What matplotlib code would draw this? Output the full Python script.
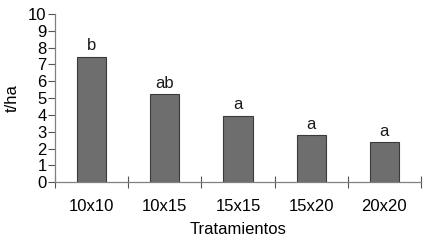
import matplotlib.pyplot as plt
import numpy as np
from matplotlib.ticker import FixedLocator

plt.rcParams['font.family'] = ['Liberation Sans', 'DejaVu Sans']

# Data
tratamientos = ['10x10', '10x15', '15x15', '15x20', '20x20']
rendimiento = [7.47, 5.22, 3.95, 2.8, 2.4]   # t/ha
letras = ['b', 'ab', 'a', 'a', 'a']

FS = 12

fig = plt.figure(figsize=(4.37, 2.44), dpi=100)
ax = fig.add_axes([0.1259, 0.2529, 0.8375, 0.6897])

x = np.arange(len(tratamientos)) + 0.5
ax.bar(x, rendimiento, width=0.4, color='#6e6e6e',
       edgecolor='#3a3a3a', linewidth=0.8, zorder=2)

for xi, val, lab in zip(x, rendimiento, letras):
    ax.text(xi, val + 0.2, lab, ha='center', va='bottom', fontsize=FS, color='#1a1a1a')

ax.set_xlim(0, len(tratamientos))
ax.set_ylim(0, 10)
ax.set_yticks(range(0, 11))

# category boundaries as major ticks, labels at centres as minor
ax.xaxis.set_major_locator(FixedLocator(np.arange(len(tratamientos) + 1)))
ax.xaxis.set_minor_locator(FixedLocator(x))
ax.set_xticklabels([])
ax.set_xticklabels(tratamientos, minor=True)
ax.tick_params(axis='x', which='major', direction='inout', length=8, width=0.8, color='#555555')
ax.tick_params(axis='x', which='minor', direction='in', length=4, width=0.8, color='#333333',
               labelsize=FS, pad=12)
ax.tick_params(axis='y', direction='out', length=5, width=0.8, color='#555555',
               labelsize=FS, pad=1)

for s in ['top', 'right']:
    ax.spines[s].set_visible(False)
for s in ['left', 'bottom']:
    ax.spines[s].set_color('#808080')
    ax.spines[s].set_linewidth(0.9)

ax.set_xlabel('Tratamientos', fontsize=FS, labelpad=6)
ax.set_ylabel('t/ha', fontsize=FS, labelpad=6)

fig.savefig('out.png', dpi=100, facecolor='white')
